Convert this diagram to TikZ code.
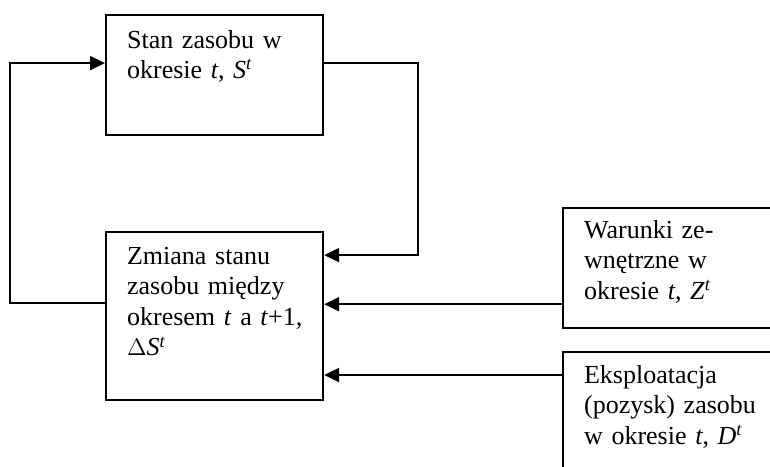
\documentclass[tikz,border=0pt]{standalone}
\usepackage{fontspec}
\setmainfont{Liberation Serif}
\usetikzlibrary{arrows.meta}
\begin{document}
\begin{tikzpicture}[>={Triangle[length=7.5pt,width=7pt]},x=0.5pt,y=-0.5pt,line width=1.1pt,
	box/.style={draw,rectangle,anchor=north west,align=left,text width=87.5pt,inner xsep=10.5pt,inner ysep=0pt,font=\fontsize{13}{15.3}\selectfont}]
	\useasboundingbox (0,0) rectangle (770,466);
	\clip (0,0) rectangle (770,466);
	\node[box,text height=16.5pt,text depth=43.5pt] (st) at (105,14) {Stan zasobu w\\okresie \textit{t}, \textit{S}\textsuperscript{\textit{t}}};
	\node[box,text height=16pt,text depth=68pt] (zm) at (105,231) {Zmiana stanu\\zasobu między\\\mbox{okresem \textit{t} a \textit{t}+1,}\\$\Delta$\textit{S}\textsuperscript{\textit{t}}};
	\node[box,text height=15pt,text depth=45pt] (wz) at (562,207) {Warunki ze-\\wnętrzne w\\okresie \textit{t}, \textit{Z}\textsuperscript{\textit{t}}};
	\node[box,text height=15.5pt,text depth=49.5pt] (ek) at (562,351) {Eksploatacja\\(pozysk) zasobu\\w okresie \textit{t}, \textit{D}\textsuperscript{\textit{t}}};
	\coordinate (lf) at (10,180);
	\coordinate (rt) at (418,180);
	\coordinate (wzin) at ([yshift=12.5pt]wz.south west);
	\coordinate (ekin) at ([yshift=-12pt]ek.north west);
	\draw[->] ([yshift=6.5pt]zm.west) -| (lf) |- ([yshift=6pt]st.west);
	\draw[->] ([yshift=6pt]st.east) -| (rt) |- ([yshift=30.5pt]zm.east);
	\draw[->] (wzin) -- (zm.east |- wzin);
	\draw[->] (ekin) -- (zm.east |- ekin);
\end{tikzpicture}
\end{document}
